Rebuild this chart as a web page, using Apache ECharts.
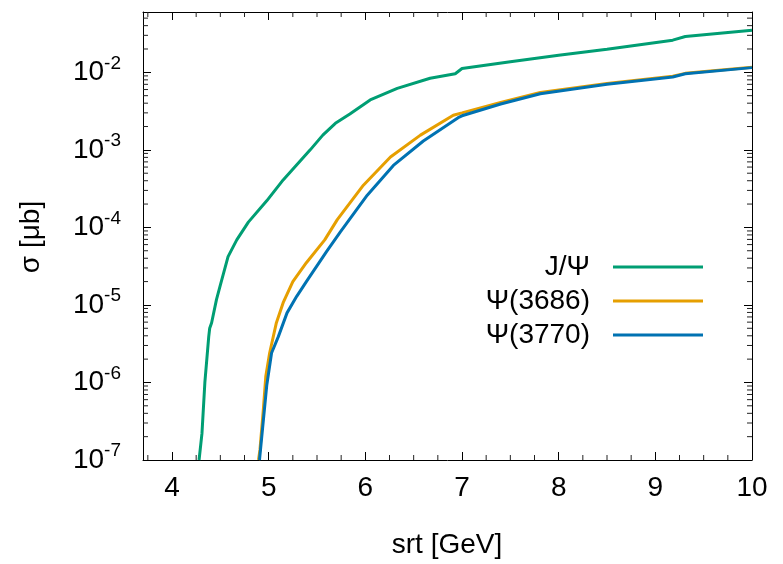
<!DOCTYPE html>
<html><head><meta charset="utf-8">
<script src="https://cdn.jsdelivr.net/npm/echarts@6/dist/echarts.min.js"></script>
<style>html,body{margin:0;padding:0;background:#fff}#c{width:783px;height:564px}</style>
</head><body><div id="c"></div>
<script>
const seriesNames = ['J/Ψ', 'Ψ(3686)', 'Ψ(3770)'];
const jpsiX = [4.28, 4.31, 4.34, 4.38, 4.39, 4.41, 4.46, 4.50, 4.58, 4.67, 4.79, 4.98, 5.15, 5.43, 5.56, 5.69, 5.84, 6.05, 6.33, 6.67, 6.93, 7.00, 7.50, 8.00, 8.50, 9.18, 9.31, 10.0];
const jpsiY = [1e-7, 2.2e-7, 1.0e-6, 3.9e-6, 5.0e-6, 5.9e-6, 1.17e-5, 1.8e-5, 4.2e-5, 6.9e-5, 1.17e-4, 2.2e-4, 4.1e-4, 1.0e-3, 1.55e-3, 2.2e-3, 2.9e-3, 4.4e-3, 6.2e-3, 8.4e-3, 9.6e-3, 1.12e-2, 1.37e-2, 1.66e-2, 1.98e-2, 2.6e-2, 2.9e-2, 3.5e-2];
const psi3686X = [4.895, 4.91, 4.945, 4.97, 5.01, 5.08, 5.15, 5.25, 5.39, 5.58, 5.71, 5.98, 6.26, 6.57, 6.91, 7.00, 7.40, 7.81, 8.50, 9.18, 9.31, 10.0];
const psi3686Y = [1e-7, 1.36e-7, 4.5e-7, 1.19e-6, 2.4e-6, 5.9e-6, 1.07e-5, 2.0e-5, 3.5e-5, 6.9e-5, 1.26e-4, 3.5e-4, 8.1e-4, 1.55e-3, 2.8e-3, 3.0e-3, 4.1e-3, 5.5e-3, 7.2e-3, 8.9e-3, 9.7e-3, 1.16e-2];
const psi3770X = [4.905, 4.98, 5.03, 5.10, 5.19, 5.29, 5.39, 5.60, 5.74, 6.02, 6.29, 6.60, 6.96, 7.00, 7.40, 7.81, 8.50, 9.18, 9.31, 10.0];
const psi3770Y = [1e-7, 9.1e-7, 2.4e-6, 3.9e-6, 7.9e-6, 1.29e-5, 2.0e-5, 4.9e-5, 8.7e-5, 2.6e-4, 6.3e-4, 1.3e-3, 2.6e-3, 2.75e-3, 3.9e-3, 5.3e-3, 7.0e-3, 8.7e-3, 9.6e-3, 1.15e-2];
const colors = ['#009e73', '#e69f00', '#0072b2'];

const xTickLabels = [4, 5, 6, 7, 8, 9, 10];
const xMinorTicks = [3.75, 4.25, 4.5, 4.75, 5.25, 5.5, 5.75, 6.25, 6.5, 6.75, 7.25, 7.5, 7.75, 8.25, 8.5, 8.75, 9.25, 9.5, 9.75];
const yTickLabels = [1e-7, 1e-6, 1e-5, 1e-4, 1e-3, 1e-2];
const yMinorFactors = [2, 3, 4, 5, 6, 7, 8, 9];
const xTitle = 'srt [GeV]';
const yTitle = 'σ [μb]';

const FONT = '"Liberation Sans", Arial, Helvetica, sans-serif';
const X_MIN = 3.7, X_MAX = 10, Y_MIN = 1e-7, Y_MAX = 0.06;

function zip(xs, ys) { return xs.map((x, i) => [x, ys[i]]); }

const yMinorTicks = [];
yTickLabels.forEach(d => yMinorFactors.forEach(k => { if (k * d < Y_MAX) yMinorTicks.push(k * d); }));

const xBottom = {
  type: 'value', position: 'bottom', min: X_MIN, max: X_MAX,
  splitLine: { show: false },
  axisLine: { show: true, lineStyle: { color: '#000' } },
  axisTick: { show: true, inside: true, length: 8 },
  axisLabel: { show: true, showMinLabel: false, fontSize: 28, color: '#000', fontFamily: FONT, margin: 14 }
};
const xTop = {
  type: 'value', position: 'top', min: X_MIN, max: X_MAX,
  splitLine: { show: false },
  axisLine: { show: true, lineStyle: { color: '#000' } },
  axisTick: { show: true, inside: true, length: 8 },
  axisLabel: { show: false }
};
const yLeft = {
  type: 'log', position: 'left', min: Y_MIN, max: Y_MAX,
  splitLine: { show: false },
  axisLine: { show: true, lineStyle: { color: '#000' } },
  axisTick: { show: true, inside: true, length: 8 },
  axisLabel: {
    show: true, showMaxLabel: false, margin: 22, color: '#000', fontFamily: FONT,
    formatter: v => '{b|10}{s|' + Math.round(Math.log10(v)) + '}',
    rich: { b: { fontSize: 28, fontFamily: FONT, color: '#000' },
            s: { fontSize: 19, fontFamily: FONT, color: '#000', verticalAlign: 'top', padding: [0, 0, 18, 0] } }
  }
};
const yRight = {
  type: 'log', position: 'right', min: Y_MIN, max: Y_MAX,
  splitLine: { show: false },
  axisLine: { show: true, lineStyle: { color: '#000' } },
  axisTick: { show: true, inside: true, length: 8 },
  axisLabel: { show: false }
};

const tickStyle = { stroke: '#222', lineWidth: 1 };
function renderXMinor(params, api) {
  const x = api.value(0);
  const pb = api.coord([x, Y_MIN]), pt = api.coord([x, Y_MAX]);
  return { type: 'group', children: [
    { type: 'line', shape: { x1: pb[0], y1: pb[1], x2: pb[0], y2: pb[1] - 5 }, style: tickStyle },
    { type: 'line', shape: { x1: pt[0], y1: pt[1], x2: pt[0], y2: pt[1] + 5 }, style: tickStyle }
  ] };
}
function renderYMinor(params, api) {
  const y = api.value(1);
  const pl = api.coord([X_MIN, y]), pr = api.coord([X_MAX, y]);
  return { type: 'group', children: [
    { type: 'line', shape: { x1: pl[0], y1: pl[1], x2: pl[0] + 5, y2: pl[1] }, style: tickStyle },
    { type: 'line', shape: { x1: pr[0], y1: pr[1], x2: pr[0] - 5, y2: pr[1] }, style: tickStyle }
  ] };
}

const legendGraphics = [];
seriesNames.forEach((n, i) => {
  const cy = 267 + i * 34;
  legendGraphics.push({ type: 'text', x: 590, y: cy, style: { text: n, fontSize: 28, fontFamily: FONT, fill: '#000', align: 'right', verticalAlign: 'middle' } });
  legendGraphics.push({ type: 'line', shape: { x1: 613, y1: cy, x2: 703, y2: cy }, style: { stroke: colors[i], lineWidth: 3 } });
});

const chart = echarts.init(document.getElementById('c'));
const dataSets = [zip(jpsiX, jpsiY), zip(psi3686X, psi3686Y), zip(psi3770X, psi3770Y)];
chart.setOption({
  animation: false,
  grid: { left: 143, right: 31, top: 12, bottom: 104 },
  xAxis: [xBottom, xTop],
  yAxis: [yLeft, yRight],
  graphic: [
    { type: 'text', x: 447, y: 545, style: { text: xTitle, fontSize: 28, fontFamily: FONT, fill: '#000', align: 'center', verticalAlign: 'middle' } },
    { type: 'text', x: 31, y: 237, rotation: Math.PI / 2, style: { text: yTitle, fontSize: 28, fontFamily: FONT, fill: '#000', align: 'center', verticalAlign: 'middle' } }
  ].concat(legendGraphics),
  series: seriesNames.map((n, i) => ({
    name: n, type: 'line', data: dataSets[i],
    showSymbol: false, clip: true,
    lineStyle: { color: colors[i], width: 3 }, itemStyle: { color: colors[i] }
  })).concat([
    { type: 'custom', silent: true, clip: false, data: xMinorTicks.map(v => [v, Y_MIN]), renderItem: renderXMinor },
    { type: 'custom', silent: true, clip: false, data: yMinorTicks.map(v => [X_MIN, v]), renderItem: renderYMinor }
  ])
});
</script></body></html>
